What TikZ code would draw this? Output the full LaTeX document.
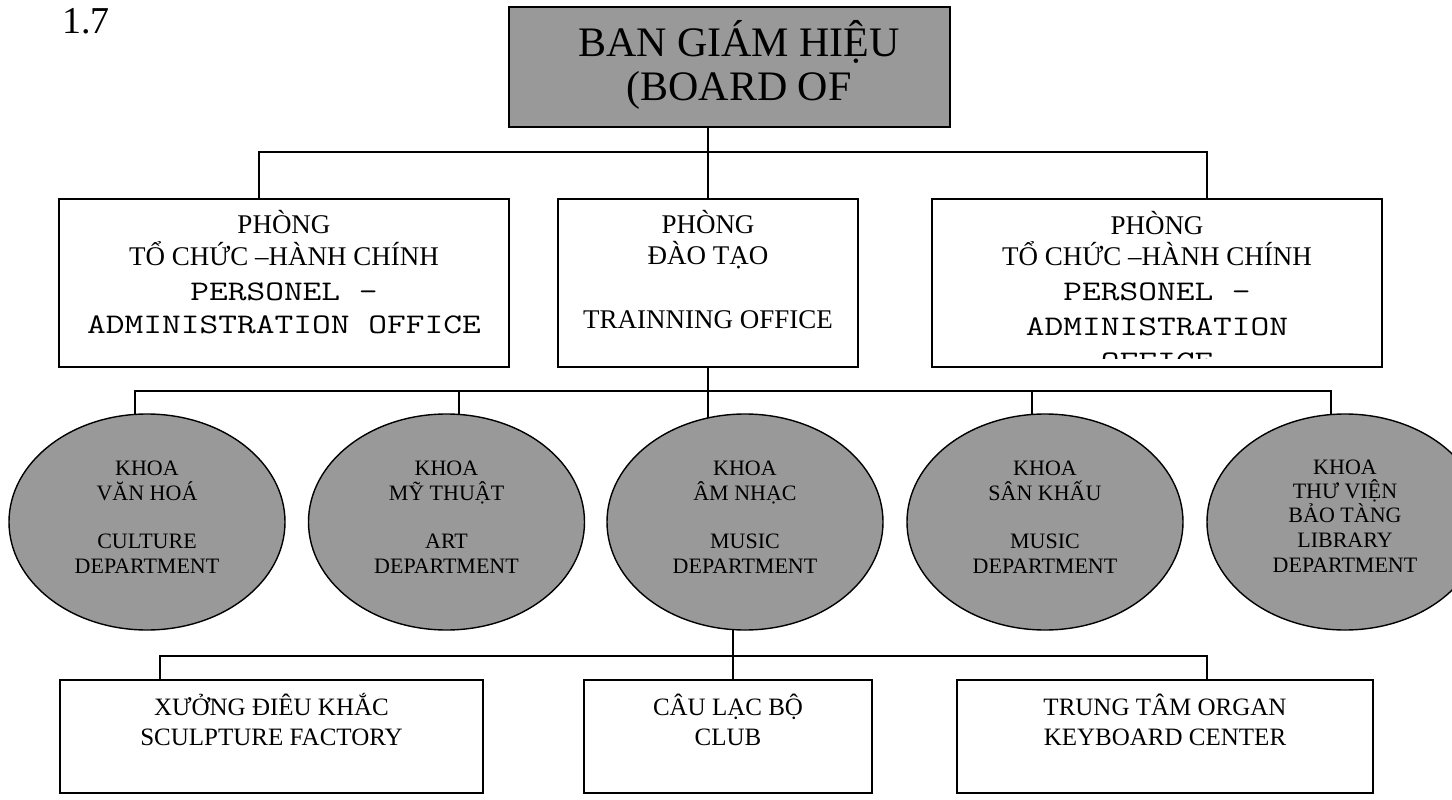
\documentclass[tikz,border=0pt]{standalone}
\usepackage{fontspec}
\usepackage{graphicx}
\setmainfont{Liberation Serif}
\usetikzlibrary{shapes.geometric,backgrounds}
\definecolor{boxgray}{HTML}{999999}
\newcommand\fNum{\fontsize{38}{44}\selectfont}
\newcommand\fTop{\fontsize{42}{48}\selectfont}
\newcommand\fMid{\fontsize{27}{32}\selectfont}
\newcommand\monotext[1]{\scalebox{1}[0.78]{\ttfamily\fontsize{36.4}{40}\selectfont #1}}
\newcommand\fOval{\fontsize{22}{25}\selectfont}
\newcommand\fBot{\fontsize{25}{30}\selectfont}
\tikzset{
  conn/.style={draw, line width=1.5pt},
  boxnode/.style={draw, line width=1.6pt, rectangle, inner sep=0pt, fill=white},
  graybox/.style={boxnode, fill=boxgray},
  oval/.style={draw, line width=1.4pt, ellipse, fill=boxgray, inner sep=0pt,
    minimum width=276pt, minimum height=216pt},
  txt/.style={anchor=base, inner sep=0pt},
}
\begin{document}
\begin{tikzpicture}[x=1pt,y=-1pt]
\useasboundingbox (0,0) rectangle (1452,800);

% title number
\node[txt, font=\fNum] (num) at (86,34) {1.7};

% board box
\node[graybox, minimum width=441pt, minimum height=120pt] (board) at (729.5,67) {};
\node[txt, font=\fTop] (board1) at (739,57) {BAN GIÁM HIỆU};
\node[txt, font=\fTop] (board2) at (739,100) {(BOARD OF};

% middle boxes
\node[boxnode, minimum width=450pt, minimum height=168pt] (pl) at (284,283) {};
\node[boxnode, minimum width=300pt, minimum height=168pt] (pm) at (708,283) {};
\node[boxnode, minimum width=450pt, minimum height=168pt] (pr) at (1157,283) {};

\node[txt, font=\fMid] (pl1) at (284,233) {PHÒNG};
\node[txt, font=\fMid] (pl2) at (284,265) {TỔ CHỨC –HÀNH CHÍNH};
\node[txt] (pl3) at (284,300) {\monotext{PERSONEL –}};
\node[txt] (pl4) at (284,333) {\monotext{ADMINISTRATION OFFICE}};

\node[txt, font=\fMid] (pm1) at (708,233) {PHÒNG};
\node[txt, font=\fMid] (pm2) at (708,264) {ĐÀO TẠO};
\node[txt, font=\fMid] (pm3) at (708,328) {TRAINNING OFFICE};

\node[txt, font=\fMid] (pr1) at (1157,234) {PHÒNG};
\node[txt, font=\fMid] (pr2) at (1157,265) {TỔ CHỨC –HÀNH CHÍNH};
\node[txt] (pr3) at (1157,300) {\monotext{PERSONEL –}};
\node[txt] (pr4) at (1157,335) {\monotext{ADMINISTRATION}};
\begin{scope}
  \clip (932,199) rectangle (1382,358);
  \node[txt] (pr5) at (1157,370) {\monotext{OFFICE}};
\end{scope}

% ellipses
\node[oval] (e1) at (147,522) {};
\node[oval] (e2) at (446.5,522) {};
\node[oval] (e3) at (745,522) {};
\node[oval] (e4) at (1045,522) {};
\node[oval] (e5) at (1345,522) {};

\node[txt, font=\fOval] (e1a) at (147,475) {KHOA};
\node[txt, font=\fOval] (e1b) at (147,500) {VĂN HOÁ};
\node[txt, font=\fOval] (e1c) at (147,548) {CULTURE};
\node[txt, font=\fOval] (e1d) at (147,573) {DEPARTMENT};

\node[txt, font=\fOval] (e2a) at (446.5,475) {KHOA};
\node[txt, font=\fOval] (e2b) at (446.5,500) {MỸ THUẬT};
\node[txt, font=\fOval] (e2c) at (446.5,548) {ART};
\node[txt, font=\fOval] (e2d) at (446.5,573) {DEPARTMENT};

\node[txt, font=\fOval] (e3a) at (745,475) {KHOA};
\node[txt, font=\fOval] (e3b) at (745,500) {ÂM NHẠC};
\node[txt, font=\fOval] (e3c) at (745,548) {MUSIC};
\node[txt, font=\fOval] (e3d) at (745,573) {DEPARTMENT};

\node[txt, font=\fOval] (e4a) at (1045,475) {KHOA};
\node[txt, font=\fOval] (e4b) at (1045,500) {SÂN KHẤU};
\node[txt, font=\fOval] (e4c) at (1045,548) {MUSIC};
\node[txt, font=\fOval] (e4d) at (1045,573) {DEPARTMENT};

\node[txt, font=\fOval] (e5a) at (1345,474) {KHOA};
\node[txt, font=\fOval] (e5b) at (1345,498) {THƯ VIỆN};
\node[txt, font=\fOval] (e5c) at (1345,522) {BẢO TÀNG};
\node[txt, font=\fOval] (e5d) at (1345,547) {LIBRARY};
\node[txt, font=\fOval] (e5e) at (1345,572) {DEPARTMENT};

% bottom boxes
\node[boxnode, minimum width=423pt, minimum height=113pt] (b1) at (271.5,736.5) {};
\node[boxnode, minimum width=288pt, minimum height=113pt] (b2) at (728,736.5) {};
\node[boxnode, minimum width=416pt, minimum height=113pt] (b3) at (1165,736.5) {};

\node[txt, font=\fBot] (b1a) at (271.5,715) {XƯỞNG ĐIÊU KHẮC};
\node[txt, font=\fBot] (b1b) at (271.5,745) {SCULPTURE FACTORY};
\node[txt, font=\fBot] (b2a) at (728,715) {CÂU LẠC BỘ};
\node[txt, font=\fBot] (b2b) at (728,745) {CLUB};
\node[txt, font=\fBot] (b3a) at (1165,715) {TRUNG TÂM ORGAN};
\node[txt, font=\fBot] (b3b) at (1165,745) {KEYBOARD CENTER};

% connectors (behind the filled shapes)
\coordinate (bus1) at (708,152);
\coordinate (bus2) at (708,391);
\coordinate (bus3) at (733,656);
\begin{scope}[on background layer]
  % board -> offices
  \draw[conn] ([xshift=-21.5pt]board.center) -- (pm.center);
  \draw[conn] ([xshift=-25pt]pl.center) |- (bus1) -| ([xshift=50pt]pr.center);
  % training office -> departments
  \draw[conn] (pm.center) -- ([xshift=-37pt]e3.center);
  \draw[conn] ([xshift=-12pt]e1.center) |- (bus2) -| ([xshift=-14pt]e5.center);
  \draw[conn] ([xshift=12.5pt]e2.center) |- (bus2);
  \draw[conn] ([xshift=-13pt]e4.center) |- (bus2);
  % music department -> units
  \draw[conn] ([xshift=-12pt]e3.center) -- ([xshift=5pt]b2.center);
  \draw[conn] ([xshift=-111.5pt]b1.center) |- (bus3) -| ([xshift=42pt]b3.center);
\end{scope}
\end{tikzpicture}
\end{document}
